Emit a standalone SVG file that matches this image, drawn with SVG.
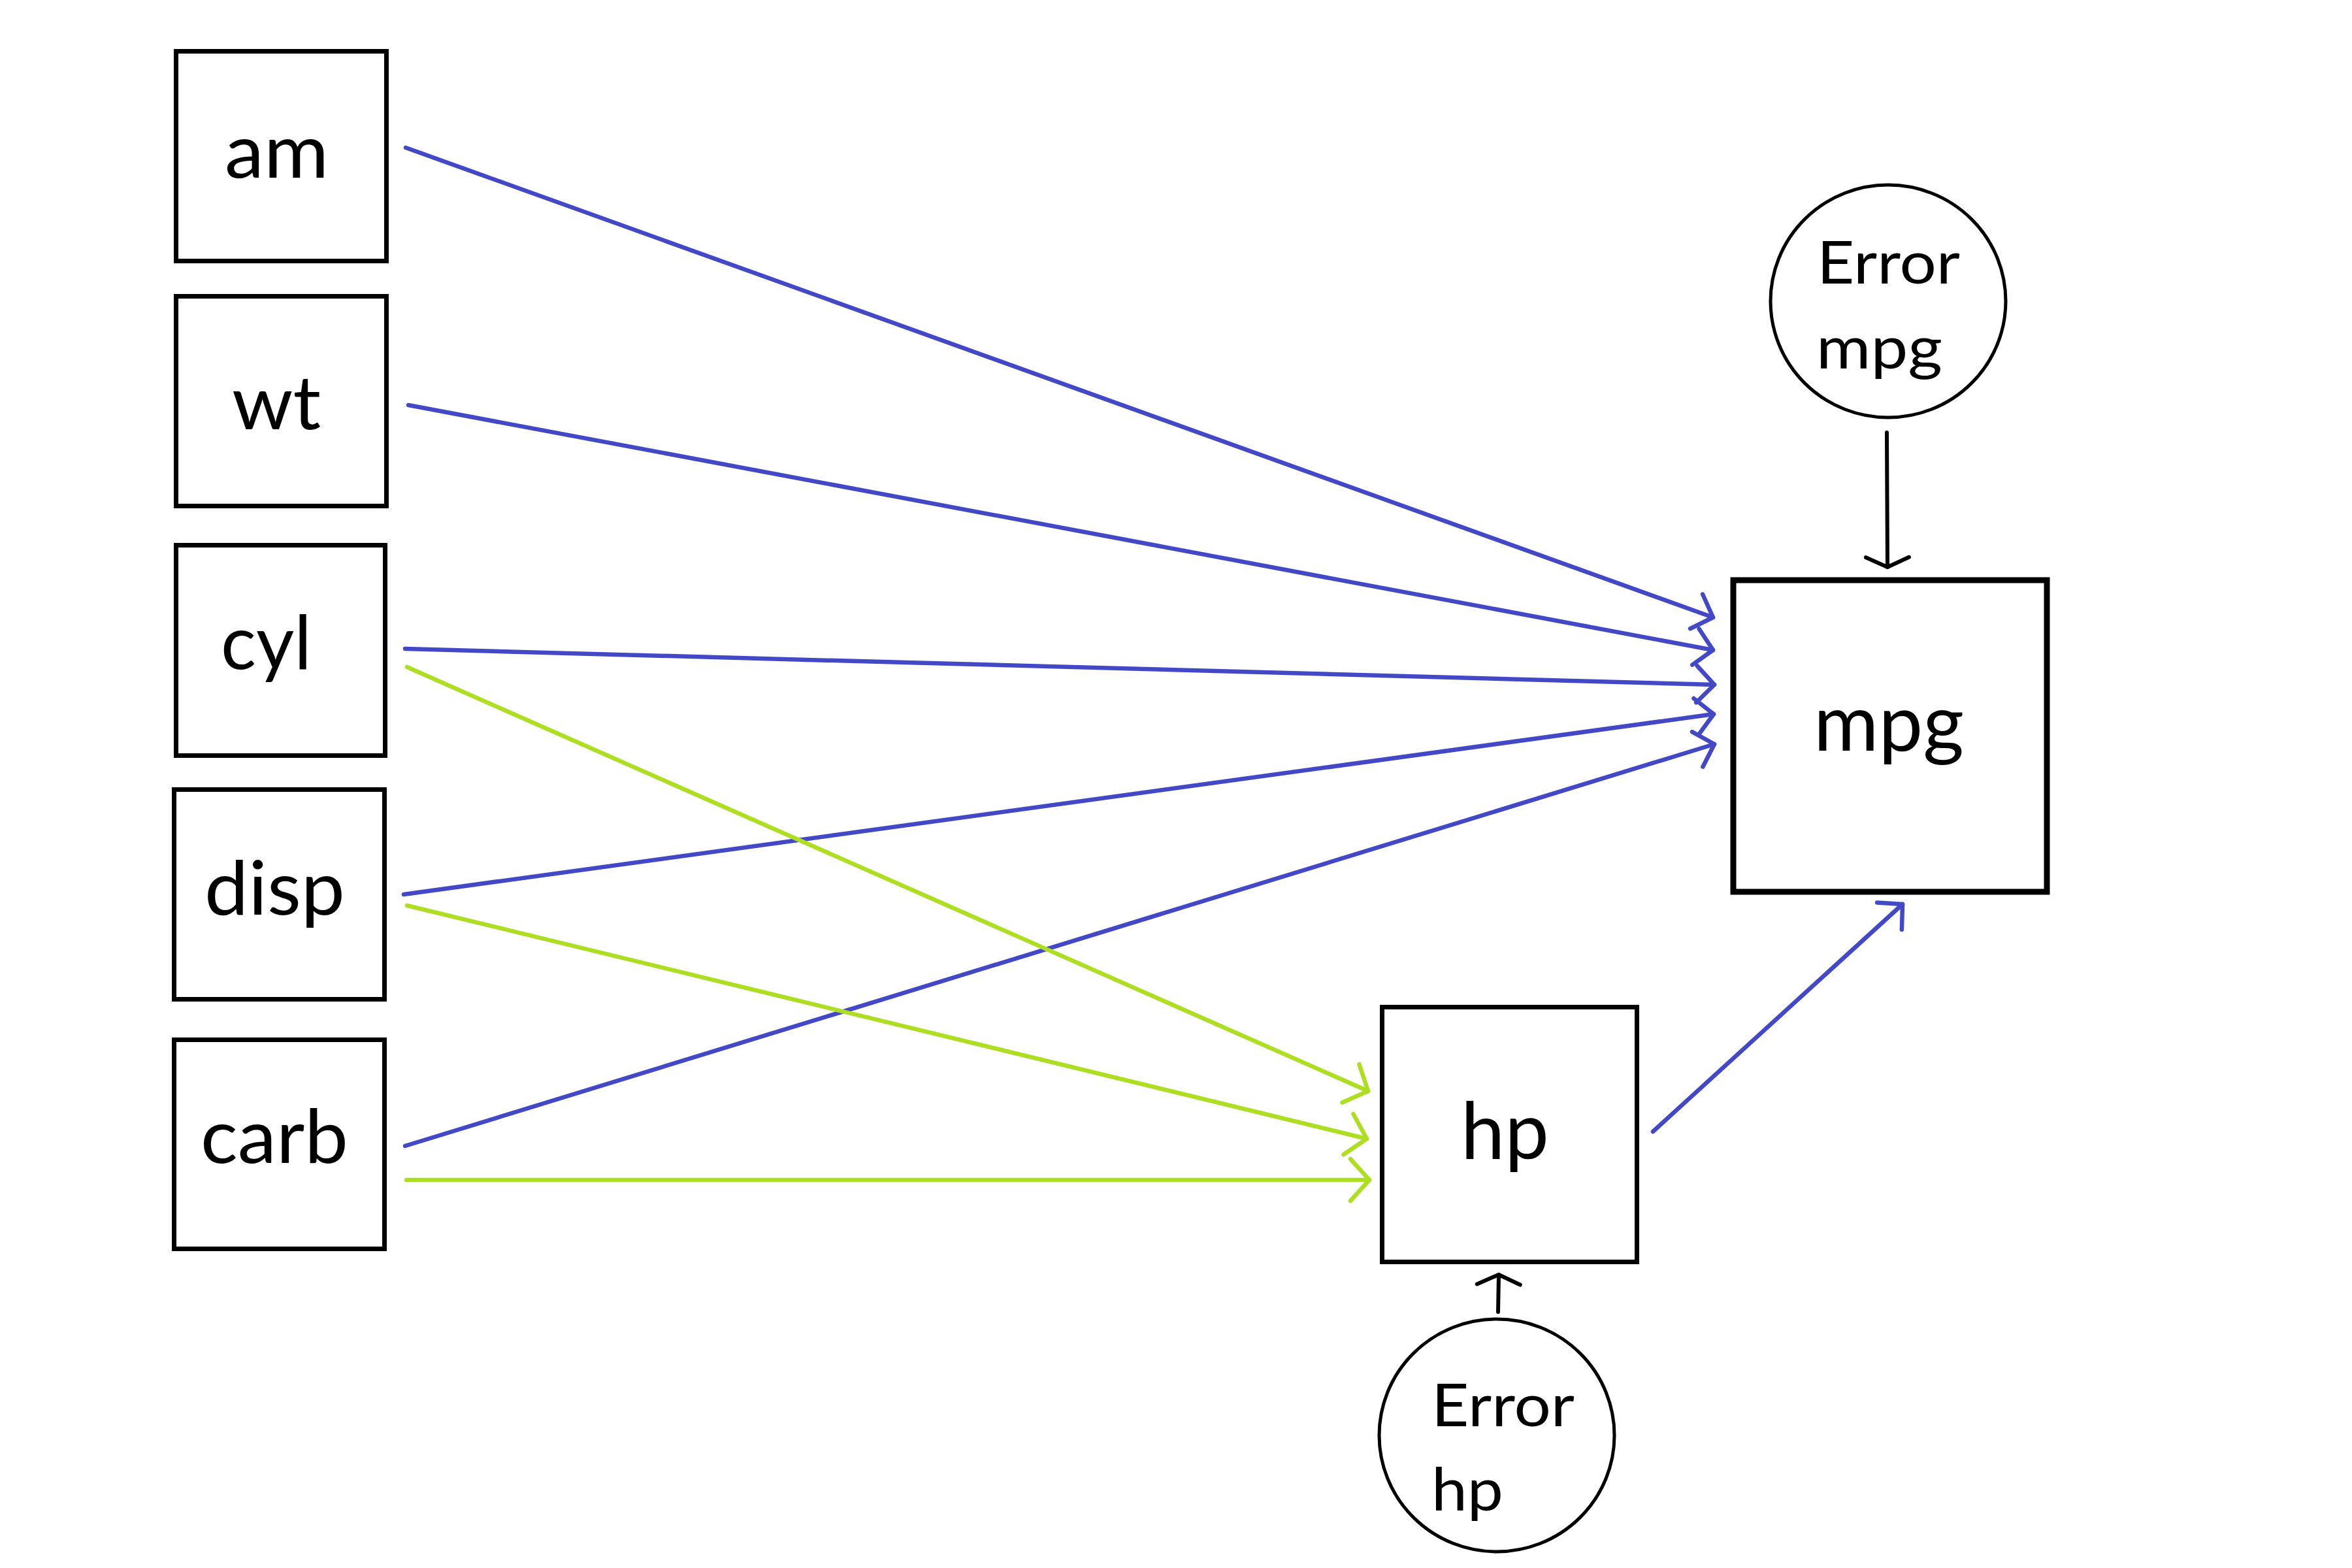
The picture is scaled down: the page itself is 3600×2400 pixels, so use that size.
<svg xmlns="http://www.w3.org/2000/svg" width="3600" height="2400" viewBox="0 0 3600 2400">
<style>
.box{fill:#ffffff;stroke:#000000;stroke-width:7}
.big{stroke-width:9}
.err{fill:#ffffff;stroke:#000000;stroke-width:5}
.lbl{font-family:Lato,"Open Sans","Liberation Sans",sans-serif;font-size:115px;fill:#000000}
.lbl2{font-family:Lato,"Open Sans","Liberation Sans",sans-serif;font-size:120px;fill:#000000}
.elbl{font-family:Lato,"Open Sans","Liberation Sans",sans-serif;font-size:91px;fill:#000000}
.blue{stroke:#4348C6;stroke-width:6.5;fill:none;stroke-linecap:round;marker-end:url(#ab)}
.green{stroke:#AEDE22;stroke-width:6.5;fill:none;stroke-linecap:round;marker-end:url(#ag)}
.black{stroke:#000000;stroke-width:6;fill:none;stroke-linecap:round;marker-end:url(#ak)}
</style>
<defs>
<marker id="ab" markerUnits="userSpaceOnUse" orient="auto" overflow="visible" refX="0" refY="0" markerWidth="1" markerHeight="1">
<path d="M-27,-28 L0,0 L-27,28" fill="none" stroke="#4348C6" stroke-width="6.5" stroke-linecap="round" stroke-linejoin="round"/>
</marker>
<marker id="ag" markerUnits="userSpaceOnUse" orient="auto" overflow="visible" refX="0" refY="0" markerWidth="1" markerHeight="1">
<path d="M-29,-32 L0,0 L-29,32" fill="none" stroke="#AEDE22" stroke-width="6.5" stroke-linecap="round" stroke-linejoin="round"/>
</marker>
<marker id="ak" markerUnits="userSpaceOnUse" orient="auto" overflow="visible" refX="0" refY="0" markerWidth="1" markerHeight="1">
<path d="M-15,-33 L0,0 L-15,33" fill="none" stroke="#000000" stroke-width="6" stroke-linecap="round" stroke-linejoin="round"/>
</marker>
</defs>
<rect width="3600" height="2400" fill="#ffffff"/>

<g id="connectors">
<line class="blue" x1="621" y1="226" x2="2622" y2="945"/>
<line class="blue" x1="625" y1="620" x2="2622" y2="995"/>
<line class="blue" x1="620" y1="993" x2="2624" y2="1048"/>
<line class="blue" x1="618" y1="1369" x2="2623" y2="1093"/>
<line class="blue" x1="620" y1="1754" x2="2624" y2="1139"/>
<line class="blue" x1="2530" y1="1732" x2="2912" y2="1384"/>
<line class="green" x1="623" y1="1021" x2="2094" y2="1670"/>
<line class="green" x1="623" y1="1386" x2="2092" y2="1743"/>
<line class="green" x1="622" y1="1806" x2="2096" y2="1806"/>
<line class="black" x1="2888" y1="662" x2="2889" y2="868"/>
<line class="black" x1="2293" y1="2008" x2="2294" y2="1951"/>
</g>

<g id="node-am">
<rect class="box" x="269.5" y="78.5" width="322" height="321"/>
<text class="lbl" x="344" y="272" textLength="159" lengthAdjust="spacingAndGlyphs">am</text>
</g>
<g id="node-wt">
<rect class="box" x="269.5" y="453.5" width="322" height="321"/>
<text class="lbl" x="355" y="657" textLength="136" lengthAdjust="spacingAndGlyphs">wt</text>
</g>
<g id="node-cyl">
<rect class="box" x="269.5" y="834.5" width="320" height="322"/>
<text class="lbl" x="338" y="1024" textLength="139" lengthAdjust="spacingAndGlyphs">cyl</text>
</g>
<g id="node-disp">
<rect class="box" x="266.5" y="1208.5" width="322" height="321"/>
<text class="lbl" x="313" y="1400" textLength="215" lengthAdjust="spacingAndGlyphs">disp</text>
</g>
<g id="node-carb">
<rect class="box" x="266.5" y="1591.5" width="322" height="320"/>
<text class="lbl" x="307" y="1780" textLength="226" lengthAdjust="spacingAndGlyphs">carb</text>
</g>
<g id="node-mpg">
<rect class="box big" x="2653" y="888" width="480" height="477"/>
<text class="lbl2" x="2776" y="1149" textLength="230" lengthAdjust="spacingAndGlyphs">mpg</text>
</g>
<g id="node-hp">
<rect class="box" x="2115.5" y="1541.5" width="390" height="390"/>
<text class="lbl2" x="2236" y="1773" textLength="135" lengthAdjust="spacingAndGlyphs">hp</text>
</g>
<g id="node-error-mpg">
<ellipse class="err" cx="2890" cy="461" rx="180" ry="178"/>
<text class="elbl" x="2781" y="434" textLength="219" lengthAdjust="spacingAndGlyphs">Error</text>
<text class="elbl" x="2780" y="564" textLength="193" lengthAdjust="spacingAndGlyphs">mpg</text>
</g>
<g id="node-error-hp">
<ellipse class="err" cx="2291" cy="2197" rx="180" ry="178"/>
<text class="elbl" x="2191" y="2183" textLength="219" lengthAdjust="spacingAndGlyphs">Error</text>
<text class="elbl" x="2191" y="2312" textLength="110" lengthAdjust="spacingAndGlyphs">hp</text>
</g>
</svg>
